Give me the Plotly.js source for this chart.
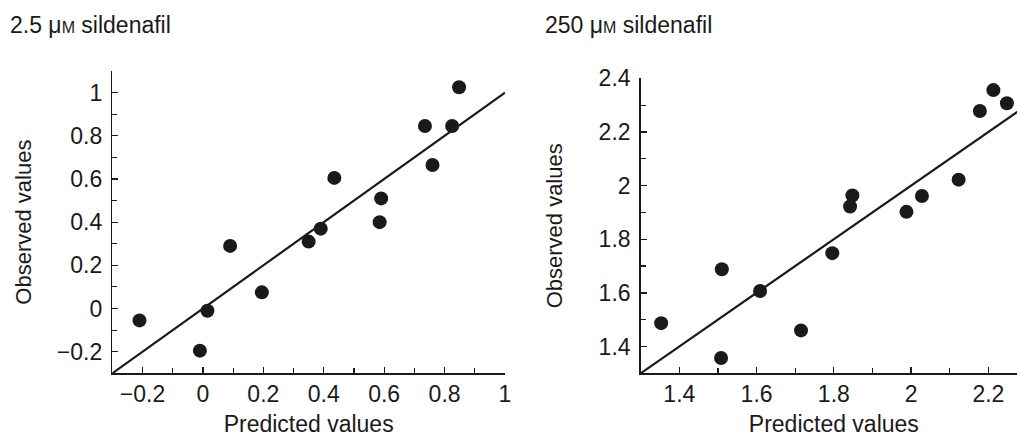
<!DOCTYPE html>
<html>
<head>
<meta charset="utf-8">
<script src="https://cdn.plot.ly/plotly-3.0.1.min.js"></script>
<style>
html,body{margin:0;padding:0;overflow:hidden;background:#fff;}
#chart{width:1027px;height:437px;}
</style>
</head>
<body>
<div id="chart"></div>
<script>
// Left panel: 2.5 µM sildenafil
const predictedLow = [-0.21, -0.01, 0.015, 0.09, 0.195, 0.35, 0.39, 0.435, 0.585, 0.59, 0.735, 0.76, 0.825, 0.848];
const observedLow  = [-0.055, -0.195, -0.01, 0.29, 0.075, 0.31, 0.37, 0.605, 0.40, 0.51, 0.845, 0.665, 0.845, 1.025];
const identityLow  = [-0.3, 1.0];

// Right panel: 250 µM sildenafil
const predictedHigh = [1.353, 1.508, 1.51, 1.609, 1.715, 1.796, 1.842, 1.848, 1.988, 2.028, 2.123, 2.178, 2.213, 2.248];
const observedHigh  = [1.487, 1.357, 1.688, 1.607, 1.46, 1.748, 1.922, 1.963, 1.902, 1.961, 2.022, 2.278, 2.356, 2.307];
const identityHigh  = [1.3, 2.3];

const titles = ['2.5 μ<span style="font-size:16px">M</span> sildenafil', '250 μ<span style="font-size:16px">M</span> sildenafil'];
const xTitle = 'Predicted values';
const yTitle = 'Observed values';

const W = 1027, H = 437;
const ink = '#1a1a1a';
const fontFam = 'Liberation Sans, Arial, sans-serif';
const FS = 23;

const markerStyle = {size: 14, color: ink};
const lineStyle = {color: ink, width: 2.2};

const traces = [
  {x: identityLow, y: identityLow, mode: 'lines', line: lineStyle, xaxis: 'x', yaxis: 'y', hoverinfo: 'skip'},
  {x: predictedLow, y: observedLow, mode: 'markers', marker: markerStyle, xaxis: 'x', yaxis: 'y', cliponaxis: false},
  {x: identityHigh, y: identityHigh, mode: 'lines', line: lineStyle, xaxis: 'x2', yaxis: 'y2', hoverinfo: 'skip'},
  {x: predictedHigh, y: observedHigh, mode: 'markers', marker: markerStyle, xaxis: 'x2', yaxis: 'y2', cliponaxis: false}
];

function axisBase(extra) {
  return Object.assign({
    showline: true, linecolor: ink, linewidth: 1.5,
    showgrid: false, zeroline: false,
    ticks: 'inside', ticklen: 6, tickwidth: 1.3, tickcolor: ink,
    tickfont: {family: fontFam, size: FS, color: ink},
    minor: {ticks: 'inside', ticklen: 5, tickwidth: 1.1, tickcolor: ink, dtick: 0.1, showgrid: false},
    fixedrange: true
  }, extra);
}

const px = v => v / W;
const py = v => 1 - v / H;

const layout = {
  width: W, height: H,
  margin: {l: 0, r: 0, t: 0, b: 0},
  paper_bgcolor: '#fff', plot_bgcolor: '#fff',
  showlegend: false,
  font: {family: fontFam, size: FS, color: ink},
  xaxis: axisBase({domain: [px(112.3), px(505)], range: [-0.3, 1.0], dtick: 0.2, tick0: 0, anchor: 'y',
    title: {text: xTitle, font: {family: fontFam, size: FS, color: ink}, standoff: 15}}),
  yaxis: axisBase({domain: [py(373.3), py(71)], range: [-0.3, 1.1], dtick: 0.2, tick0: 0, anchor: 'x', ticklabelstandoff: 4,
    title: {text: yTitle, font: {family: fontFam, size: 22, color: ink}, standoff: 19}}),
  xaxis2: axisBase({domain: [px(640.7), 1], range: [1.3, 2.3], dtick: 0.2, tick0: 1.4, anchor: 'y2',
    title: {text: xTitle, font: {family: fontFam, size: FS, color: ink}, standoff: 15}}),
  yaxis2: axisBase({domain: [py(373.3), py(78.3)], range: [1.3, 2.4], dtick: 0.2, tick0: 1.4, anchor: 'x2', ticklabelstandoff: 4,
    title: {text: yTitle, font: {family: fontFam, size: 22, color: ink}, standoff: 30}}),
  annotations: [
    {text: titles[0], xref: 'paper', yref: 'paper', x: px(8), y: py(25), xanchor: 'left', yanchor: 'middle', showarrow: false, font: {family: fontFam, size: FS, color: ink}},
    {text: titles[1], xref: 'paper', yref: 'paper', x: px(543), y: py(25), xanchor: 'left', yanchor: 'middle', showarrow: false, font: {family: fontFam, size: FS, color: ink}}
  ]
};

Plotly.newPlot('chart', traces, layout, {displayModeBar: false, staticPlot: true});
</script>
</body>
</html>
